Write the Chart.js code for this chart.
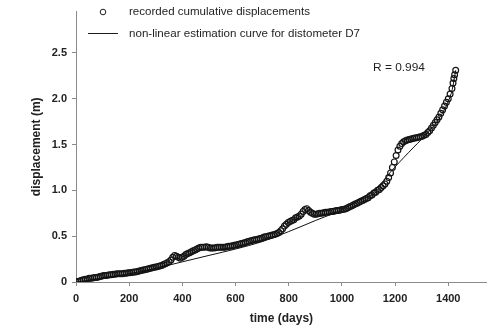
<!DOCTYPE html>
<html>
<head>
<meta charset="utf-8">
<script src="https://cdn.jsdelivr.net/npm/chart.js@4/dist/chart.umd.min.js"></script>
<style>
html,body{margin:0;padding:0;background:#fff;}
#wrap{width:492px;height:328px;position:relative;}
</style>
</head>
<body>
<div id="wrap"><canvas id="c" width="492" height="328"></canvas></div>
<script>
// recorded cumulative displacements (days, metres)
const recordedDays = [0,7,14,21,28,35,42,49,56,63,70,77,84,91,98,105,112,119,126,133,140,147,154,161,168,175,182,189,196,203,210,217,224,231,238,245,252,259,266,273,280,287,294,301,308,315,322,329,336,343,350,357,364,371,378,385,392,399,406,413,420,427,434,441,448,455,462,469,476,483,490,497,504,511,518,525,532,539,546,553,560,567,574,581,588,595,602,609,616,623,630,637,644,651,658,665,672,679,686,693,700,707,714,721,728,735,742,749,756,763,770,777,784,791,798,805,812,819,826,833,840,847,854,861,868,875,882,889,896,903,910,917,924,931,938,945,952,959,966,973,980,987,994,1001,1008,1015,1022,1029,1036,1043,1050,1057,1064,1071,1078,1085,1092,1099,1106,1113,1120,1127,1134,1141,1148,1155,1162,1169,1176,1183,1190,1197,1204,1211,1218,1225,1232,1239,1246,1253,1260,1267,1274,1281,1288,1295,1302,1309,1316,1323,1330,1337,1344,1351,1358,1365,1372,1379,1386,1393,1400,1407,1414,1418,1421,1424,1428];
const recordedValues = [0.00,0.005,0.01,0.02,0.025,0.03,0.03,0.04,0.04,0.045,0.05,0.05,0.055,0.06,0.065,0.07,0.07,0.075,0.08,0.08,0.085,0.085,0.09,0.09,0.09,0.09,0.095,0.095,0.10,0.10,0.105,0.11,0.11,0.115,0.12,0.125,0.13,0.135,0.14,0.145,0.15,0.155,0.16,0.165,0.17,0.175,0.18,0.19,0.20,0.21,0.22,0.24,0.27,0.29,0.28,0.27,0.26,0.27,0.28,0.30,0.31,0.32,0.33,0.34,0.35,0.36,0.37,0.38,0.38,0.38,0.385,0.38,0.37,0.37,0.37,0.375,0.38,0.38,0.38,0.38,0.38,0.385,0.39,0.39,0.395,0.40,0.405,0.41,0.415,0.42,0.425,0.43,0.44,0.445,0.45,0.455,0.46,0.465,0.47,0.475,0.48,0.49,0.495,0.50,0.505,0.51,0.515,0.52,0.53,0.54,0.56,0.58,0.61,0.63,0.65,0.66,0.67,0.68,0.70,0.71,0.72,0.74,0.77,0.79,0.80,0.78,0.76,0.75,0.74,0.74,0.745,0.75,0.75,0.755,0.76,0.76,0.765,0.77,0.77,0.775,0.78,0.78,0.785,0.79,0.795,0.80,0.81,0.82,0.83,0.84,0.85,0.86,0.87,0.88,0.89,0.90,0.91,0.92,0.94,0.95,0.97,0.98,1.00,1.01,1.03,1.05,1.07,1.10,1.14,1.19,1.25,1.31,1.38,1.44,1.48,1.51,1.53,1.54,1.55,1.555,1.56,1.565,1.57,1.575,1.58,1.585,1.59,1.60,1.61,1.63,1.65,1.68,1.71,1.74,1.77,1.80,1.84,1.88,1.92,1.96,2.00,2.05,2.11,2.17,2.22,2.26,2.31];

// non-linear estimation curve
const fitDays = [0,100,200,300,400,500,600,700,800,900,1000,1100,1150,1180,1250,1320,1360,1400,1415,1428];
const fitValues = [0,0.04,0.09,0.15,0.22,0.29,0.36,0.44,0.55,0.67,0.79,0.96,1.08,1.19,1.41,1.62,1.76,1.97,2.10,2.31];

const xTicks = [0,200,400,600,800,1000,1200,1400];
const yTicks = [0,0.5,1.0,1.5,2.0,2.5];

const legendLabels = ['recorded cumulative displacements','non-linear estimation curve for distometer D7'];
const annotationText = 'R = 0.994';
const xTitle = 'time (days)';
const yTitle = 'displacement (m)';

const recordedPts = recordedDays.map((d,i)=>({x:d,y:recordedValues[i]}));
const fitPts = fitDays.map((d,i)=>({x:d,y:fitValues[i]}));

const FONT = '"Liberation Sans", Arial, sans-serif';

function stretchText(ctx, txt, x, y, targetW){
  const w = ctx.measureText(txt).width;
  const s = targetW / w;
  ctx.save();
  ctx.translate(x, y);
  ctx.scale(s, 1);
  ctx.fillText(txt, 0, 0);
  ctx.restore();
}

const overlay = {
  id:'overlay',
  afterDraw(chart){
    const ctx = chart.ctx;
    ctx.save();
    ctx.font = '11px ' + FONT;
    ctx.fillStyle = '#1e1e1e';
    ctx.textBaseline = 'middle';
    ctx.textAlign = 'left';
    ctx.strokeStyle = '#1e1e1e';
    ctx.lineWidth = 1;
    // legend entry 1: marker
    ctx.beginPath();
    ctx.arc(103, 12, 2.8, 0, Math.PI*2);
    ctx.stroke();
    stretchText(ctx, legendLabels[0], 129, 12, 181);
    // legend entry 2: line
    ctx.beginPath();
    ctx.moveTo(88, 33.5);
    ctx.lineTo(118, 33.5);
    ctx.stroke();
    stretchText(ctx, legendLabels[1], 129, 34, 231);
    // R annotation
    stretchText(ctx, annotationText, 373, 68, 52);
    ctx.restore();
  }
};

new Chart(document.getElementById('c'), {
  type:'scatter',
  data:{
    datasets:[
      {
        label:legendLabels[0],
        data:recordedPts,
        showLine:false,
        pointStyle:'circle',
        pointRadius:2.9,
        pointBorderWidth:1.2,
        pointBorderColor:'#151515',
        pointBackgroundColor:'rgba(255,255,255,0)',
        order:2
      },
      {
        label:legendLabels[1],
        data:fitPts,
        showLine:true,
        borderColor:'#111',
        borderWidth:1,
        pointRadius:0,
        cubicInterpolationMode:'monotone',
        order:1
      }
    ]
  },
  options:{
    responsive:false,
    animation:false,
    layout:{padding:{top:8,right:1,left:0,bottom:0}},
    plugins:{legend:{display:false},tooltip:{enabled:false}},
    scales:{
      x:{
        type:'linear',
        min:0,max:1545,
        afterBuildTicks(s){ s.ticks = xTicks.map(v=>({value:v})); },
        afterFit(s){ s.height = 46; },
        grid:{drawOnChartArea:false,drawTicks:true,tickLength:4,color:'#8a8a8a'},
        border:{display:true,color:'#8a8a8a',width:1},
        ticks:{padding:6,color:'#222',font:{family:FONT,size:11,weight:'bold'},maxRotation:0,autoSkip:false,
          callback:(v)=> String(v)},
        title:{display:true,text:xTitle,color:'#222',font:{family:FONT,size:12,weight:'bold'},padding:{top:0,bottom:2}}
      },
      y:{
        type:'linear',
        min:0,max:2.95,
        afterBuildTicks(s){ s.ticks = yTicks.map(v=>({value:v})); },
        afterFit(s){ s.width = 76; },
        grid:{drawOnChartArea:false,drawTicks:true,tickLength:4,color:'#8a8a8a'},
        border:{display:true,color:'#8a8a8a',width:1},
        ticks:{padding:5,color:'#222',font:{family:FONT,size:11,weight:'bold'},autoSkip:false,
          callback:(v)=> v===0 ? '0' : Number(v).toFixed(1)},
        title:{display:true,text:yTitle,color:'#222',font:{family:FONT,size:12,weight:'bold'},padding:{top:29,bottom:0}}
      }
    }
  },
  plugins:[overlay]
});
</script>
</body>
</html>
